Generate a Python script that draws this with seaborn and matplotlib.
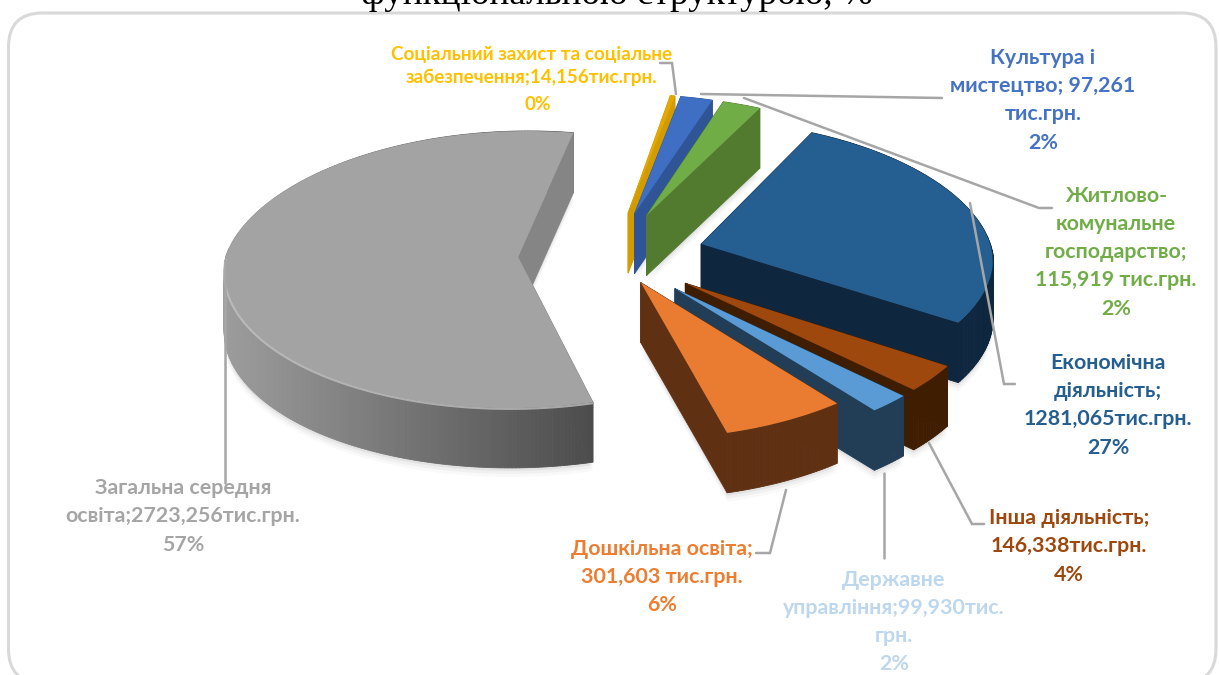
import numpy as np
import matplotlib
matplotlib.use("Agg")
import matplotlib.pyplot as plt
import matplotlib.colors as mcolors
from matplotlib.patches import FancyBboxPatch
from matplotlib.transforms import Transform
import seaborn as sns

categories = [
    "Соціальний захист та соціальне забезпечення",
    "Культура і мистецтво",
    "Житлово-комунальне господарство",
    "Економічна діяльність",
    "Інша діяльність",
    "Державне управління",
    "Дошкільна освіта",
    "Загальна середня освіта",
]
values = [14.156, 97.261, 115.919, 1281.065, 146.338, 99.930, 301.603, 2723.256]
shares = ["0%", "2%", "2%", "27%", "4%", "2%", "6%", "57%"]
label_lines = [
    "Соціальний захист та соціальне\nзабезпечення;14,156тис.грн.",
    "Культура і\nмистецтво; 97,261\nтис.грн.",
    "Житлово-\nкомунальне\nгосподарство;\n115,919 тис.грн.",
    "Економічна\nдіяльність;\n1281,065тис.грн.",
    "Інша діяльність;\n146,338тис.грн.",
    "Державне\nуправління;99,930тис.\nгрн.",
    "Дошкільна освіта;\n301,603 тис.грн.",
    "Загальна середня\nосвіта;2723,256тис.грн.",
]
title_text = "функціональною структурою, %"

top_colors = ["#E5A800", "#3F6FC2", "#70AD47", "#255E91", "#9E480E", "#5B9BD5", "#E97C30", "#A3A3A3"]
side_colors = ["#D29B00", "#2F5597", "#527B30", "#0E263E", "#3F1D00", "#213E56", "#5F3012", "#858585"]
text_colors = ["#FFC000", "#4472C4", "#70AD47", "#255E91", "#9E480E", "#BDD7EE", "#ED7D31", "#A5A5A5"]

explode = [0.32, 0.32, 0.32, 0.32, 0.32, 0.32, 0.22, 0.32]
label_pos = [(532, 66), (1043, 86), (1116, 238), (1108, 391), (1069, 532), (894, 608), (662, 563), (183, 502)]
share_pos = [(538, 105), (1043, 143), (1116, 309), (1108, 448), (1069, 575), (894, 664), (662, 605), (183, 545)]
label_size = [13.6, 15.4, 15.4, 15.4, 15.4, 15.4, 15.4, 15.4]
label_spacing = [1.46, 1.5, 1.5, 1.5, 1.5, 1.5, 1.5, 1.5]

leaders = [
    ([660, 672, 676], [63, 63, 94]),
    ([701, 942], [94, 98]),
    ([744, 1039, 1052], [98, 208, 208]),
    ([970, 1004, 1015], [203, 384, 384]),
    ([929, 972, 984], [443, 524, 524]),
    ([884, 884], [473, 558]),
    ([786, 770, 756], [490, 553, 553]),
    ([225, 225], [260, 483]),
]

CX, CY, RX, RY = 611.6, 255, 292, 137
DEPTH = 60


def project(xy, drop=0):
    # flat pie coordinates -> picture coordinates, far side smaller than near side
    xy = np.asarray(xy, dtype=float)
    x, y = xy[:, 0], xy[:, 1]
    kx = np.where(y > 0, 0.12, 0.08)
    px = CX + RX * x / (1 + kx * y)
    py = CY - RY * y / (1 + 0.09 * y) + drop
    return np.column_stack([px, py])


class Tilt(Transform):
    input_dims = 2
    output_dims = 2

    def transform_non_affine(self, values):
        return project(values)


sns.set_theme(style="white")
plt.rcParams["font.family"] = ["Lato", "Noto Sans", "DejaVu Sans"]

fig = plt.figure(figsize=(12.19, 6.75), dpi=100)
ax = fig.add_axes([0, 0, 1, 1])

wedges, _ = ax.pie(
    values,
    explode=explode,
    colors=top_colors,
    startangle=80,
    counterclock=False,
    wedgeprops={"linewidth": 0},
)
ax.set_aspect("auto")
ax.set_xlim(0, 1219)
ax.set_ylim(675, 0)
ax.axis("off")

ax.add_patch(
    FancyBboxPatch(
        (8.5, 13), 1207.5, 670,
        boxstyle="round,pad=0,rounding_size=34",
        facecolor="white", edgecolor="#D9D9D9", linewidth=2.2, zorder=0,
    )
)

for i, w in enumerate(wedges):
    z = 2 + i
    w.set_transform(Tilt() + ax.transData)
    w.set_zorder(z + 0.5)

    t = np.radians(np.linspace(w.theta1, w.theta2, max(4, int(abs(w.theta2 - w.theta1) * 1.5))))
    arc = np.column_stack([w.center[0] + np.cos(t), w.center[1] + np.sin(t)])
    outline = np.vstack([[w.center], arc])
    top = project(outline)
    bottom = project(outline, DEPTH)

    # soft shadow under the slice
    for k, alpha in [(9, 0.025), (6, 0.035), (3, 0.05)]:
        ax.fill(bottom[:, 0], bottom[:, 1] + k, color="black", alpha=alpha, lw=0, zorder=1)

    # side faces, far ones first
    n = len(top)
    faces = []
    for a in range(n):
        b = (a + 1) % n
        is_arc = a != 0 and b != 0
        faces.append((top[a, 1] + top[b, 1], a, b, is_arc))
    base = np.array(mcolors.to_rgb(side_colors[i]))
    is_grey = categories[i] == "Загальна середня освіта"
    for _, a, b, is_arc in sorted(faces):
        col = base
        if is_arc and is_grey:
            frac = np.clip((top[a, 0] - 226) / 364, 0, 1)
            col = np.array(mcolors.to_rgb("#9C9C9C")) * (1 - frac) + np.array(mcolors.to_rgb("#4C4C4C")) * frac
        qx = [top[a, 0], top[b, 0], bottom[b, 0], bottom[a, 0]]
        qy = [top[a, 1], top[b, 1], bottom[b, 1], bottom[a, 1]]
        ax.fill(qx, qy, color=col, lw=0.6, zorder=z)

    # light lip along the near rim of the big slice
    if is_grey:
        rim = project(arc[np.sin(t) < 0])
        ax.plot(rim[:, 0], rim[:, 1] + 1, color="#C4C4C4", lw=1.5, alpha=0.75, zorder=z + 0.6,
                solid_capstyle="butt")

for xs, ys in leaders:
    ax.plot(xs, ys, color="#A6A6A6", lw=1.8, zorder=20, solid_joinstyle="miter")

for i in range(len(categories)):
    ax.text(*label_pos[i], label_lines[i], color=text_colors[i], fontsize=label_size[i], fontweight="bold",
            ha="center", va="center", multialignment="center", linespacing=label_spacing[i], zorder=21)
    ax.text(*share_pos[i], shares[i], color=text_colors[i], fontsize=label_size[i], fontweight="bold",
            ha="center", va="center", zorder=21)

ax.text(617, 3.5, title_text, family=["Liberation Serif"], fontsize=26.7, color="black",
        ha="center", va="baseline", zorder=21)

fig.savefig("out.png", dpi=100)
